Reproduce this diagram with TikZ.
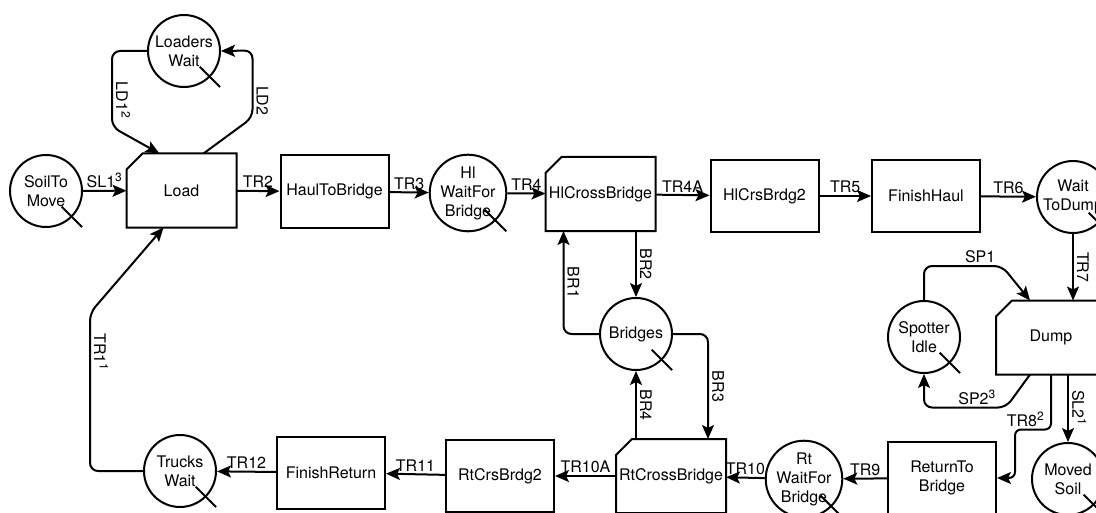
\documentclass[tikz,border=0pt]{standalone}
\usepackage{fontspec}
\setmainfont{TeX Gyre Heros}
\usetikzlibrary{arrows.meta,calc}
\begin{document}
\begin{tikzpicture}[x=0.5pt, y=-0.5pt, >={Stealth[length=7pt,width=6pt,inset=1.5pt]},
    every node/.style={font=\fontsize{8}{9.5}\selectfont},
    q/.style={draw, circle, line width=1pt, minimum size=36pt, inner sep=0pt, align=center},
    act/.style={draw, rectangle, line width=1pt, minimum width=54pt, minimum height=36pt, inner sep=0pt, align=center},
    cmb/.style={act, draw=none},
    arr/.style={->, line width=1pt, rounded corners=4pt},
    lbl/.style={above, inner sep=1pt},
    vlbl/.style={rotate=-90, anchor=south, inner sep=1.5pt}]
    \useasboundingbox (0,0) rectangle (1096,513);
    \clip (0,0) rectangle (1096,513);

    % 队列节点
    \node[q] (stm) at (46,191) {SoilTo\\Move};
    \node[q] (lw) at (184,51) {Loaders\\Wait};
    \node[q] (hw) at (468,193) {Hl\\WaitFor\\Bridge};
    \node[q] (wtd) at (1073,197) {Wait\\ToDump};
    \node[q] (si) at (924,337) {Spotter\\Idle};
    \node[q] (br) at (636,334) {Bridges};
    \node[q] (ms) at (1068,479) {Moved\\Soil};
    \node[q] (rw) at (804,479) {Rt\\WaitFor\\Bridge};
    \node[q] (tw) at (180,471) {Trucks\\Wait};

    % 活动节点
    \node[cmb] (load) at (181.5,190.5) {Load};
    \node[act] (haul) at (334.5,191.5) {HaulToBridge};
    \node[cmb] (hcb) at (600.5,194) {HlCrossBridge};
    \node[act] (hcb2) at (764.5,196) {HlCrsBrdg2};
    \node[act] (fh) at (926,196) {FinishHaul};
    \node[cmb] (dump) at (1051,337.5) {Dump};
    \node[act] (rtb) at (942,478) {ReturnTo\\Bridge};
    \node[cmb] (rcb) at (671,476) {RtCrossBridge};
    \node[act] (rcb2) at (500,476) {RtCrsBrdg2};
    \node[act] (fr) at (331,472.5) {FinishReturn};

    % 组合活动的切角
    \foreach \n in {load,hcb,dump,rcb}
        \draw[line width=1pt] ([yshift=-8pt]\n.north west) -- ([xshift=8pt]\n.north west)
            -- (\n.north east) -- (\n.south east) -- (\n.south west) -- cycle;

    % 队列斜线
    \foreach \n in {stm,lw,hw,wtd,si,br,ms,rw,tw}
        \draw[line width=1pt] ($(\n.center)!0.6!(\n.-45)$) -- ($(\n.center)!1.38!(\n.-45)$);

    % 上排
    \draw[arr] (stm) -- node[lbl] {SL1\textsuperscript{3}} (load);
    \draw[arr] (lw.west) -- ++(-35,0) -- node[vlbl, pos=.65] {LD1\textsuperscript{2}} ++(0,76) -- ([xshift=-11pt]load.north);
    \draw[arr] ([xshift=11pt]load.north) -- ++(49,-36) -- node[vlbl, pos=.25] {LD2} ++(0,-67) -- (lw.east);
    \draw[arr] (load) -- node[lbl] {TR2} (haul);
    \draw[arr] (haul) -- node[lbl] {TR3} (hw);
    \draw[arr] (hw) -- node[lbl] {TR4} (hcb);
    \draw[arr] (hcb) -- node[lbl] {TR4A} (hcb2);
    \draw[arr] (hcb2) -- node[lbl] {TR5} (fh);
    \draw[arr] (fh) -- node[lbl] {TR6} (wtd);

    % 卸土
    \draw[arr] (wtd) -- node[vlbl] {TR7} (wtd |- dump.north);
    \draw[arr] (si.north) -- ++(0,-34) -- node[lbl, pos=.72] {SP1} ++(78,0) -- ([xshift=-10.5pt]dump.north);
    \draw[arr] ([xshift=-10.5pt]dump.south) -- ++(-24,33) -- node[lbl, pos=.35] {SP2\textsuperscript{3}} ++(-82,0) -- (si.south);
    \draw[arr, rounded corners=3pt] (dump.south) -- ++(0,55) -- node[lbl, pos=.7] {TR8\textsuperscript{2}} ++(-36,0) |- (rtb.east);
    \draw[arr] (ms.north |- dump.south) -- node[vlbl] {SL2\textsuperscript{1}} (ms);

    % 下排
    \draw[arr] (rtb) -- node[lbl] {TR9} (rw);
    \draw[arr] (rw) -- node[lbl] {TR10} (rcb);
    \draw[arr] (rcb) -- node[lbl] {TR10A} (rcb2);
    \draw[arr] (rcb2) -- node[lbl] {TR11} (fr);
    \draw[arr] (fr) -- node[lbl] {TR12} (tw);
    \draw[arr] (tw.west) -- ++(-53,0) -- node[vlbl, pos=.75] {TR1\textsuperscript{1}} ++(0,-158) -- ([xshift=-9pt]load.south);

    % 桥
    \draw[arr] (br.west) -| node[vlbl, pos=.75] {BR1} ([xshift=-18.5pt]hcb.south);
    \draw[arr] (br.north |- hcb.south) -- node[vlbl] {BR2} (br);
    \draw[arr] (br.east) -| node[vlbl, pos=.75] {BR3} ([xshift=18.5pt]rcb.north);
    \draw[arr] (br.south |- rcb.north) -- node[vlbl] {BR4} (br);
\end{tikzpicture}
\end{document}
